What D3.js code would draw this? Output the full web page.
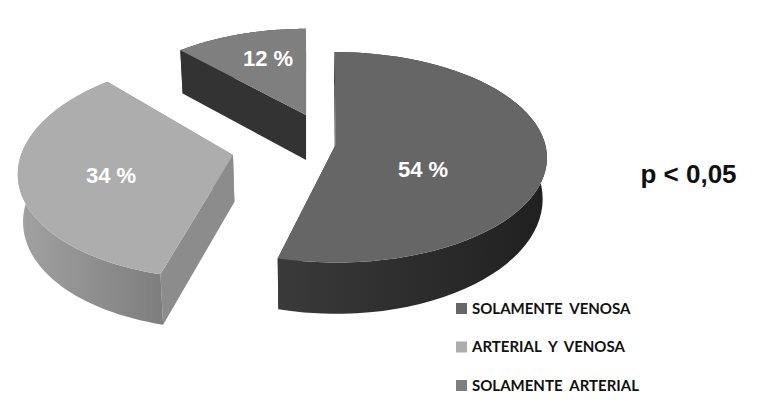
<!DOCTYPE html>
<html><head><meta charset="utf-8">
<style>html,body{margin:0;padding:0;background:#fff}svg{display:block}</style>
<script src="https://cdn.jsdelivr.net/npm/d3@7/dist/d3.min.js"></script>
</head><body><svg id="c" width="760" height="417"></svg>
<script>
const categories = ["SOLAMENTE  VENOSA", "ARTERIAL  Y  VENOSA", "SOLAMENTE  ARTERIAL"];
const values = [54, 34, 12];
const annotation = "p < 0,05";

const topColors = ["#666666", "#adadad", "#7f7f7f"];
const wallColors = ["#3a3a3a", "#8c8c8c", "#333333"];
const outerStops = [["#3a3a3a","#202020"], ["#a2a2a2","#7e7e7e"], ["#333333","#333333"]];
const legendColors = ["#666666", "#adadad", "#7f7f7f"];

// one placement per exploded slice
const layout = [
  {cx:335.5, cy:145, kx:.99, ky:.97, shear:1, depth:40, dp:2,  lx:423, ly:177},
  {cx:233, cy:155, kx:1,   ky:1.02,shear:-12, depth:47, dp:.6, lx:111, ly:183},
  {cx:306, cy:115, kx:.94, ky:.9,  shear:0,   depth:45, dp:.5, lx:268, ly:66}
];
const RX = 212, RY = 107, P = .117;
const VANISH_X = 310, CONVERGE = .018;

const svg = d3.select("#c");
const defs = svg.append("defs");
const arcs = d3.pie().sort(null).startAngle(0).endAngle(2*Math.PI)(values);

function project(l, a, f) {
  const u = Math.sin(a)*f, v = -Math.cos(a)*f, s = 1/(1 - P*v);
  return {x: l.cx + (RX*u*l.kx + l.shear*v)*s, y: l.cy + RY*v*s*l.ky, s};
}
const line = d3.line().x(d=>d.x).y(d=>d.y);

arcs.forEach((d,i)=>{
  const g = svg.append("g");
  const l = layout[i];
  const A = d3.range(0,61).map(t=>d.startAngle + (d.endAngle-d.startAngle)*t/60);
  const rim = A.map(a=>project(l,a,1));
  const low = p=>({x:p.x + (VANISH_X-p.x)*CONVERGE, y:p.y + l.depth*Math.pow(p.s,l.dp)});
  const c = project(l,0,0);

  // radial walls
  [rim[0],rim[60]].forEach(p=>{
    g.append("path").attr("d",line([c,p,low(p),low(c)])+"Z").attr("fill",wallColors[i]);
  });

  // outer wall
  const xs = d3.extent(rim,p=>p.x);
  const gid = "w"+i;
  const lg = defs.append("linearGradient").attr("id",gid).attr("gradientUnits","userSpaceOnUse")
    .attr("x1",xs[0]).attr("x2",xs[1]).attr("y1",0).attr("y2",0);
  lg.append("stop").attr("offset",0).attr("stop-color",outerStops[i][0]);
  lg.append("stop").attr("offset",1).attr("stop-color",outerStops[i][1]);
  g.append("path").attr("d",line(rim.concat(rim.map(low).reverse()))+"Z").attr("fill",`url(#${gid})`);

  // top face
  g.append("path").attr("d",line([c].concat(rim))+"Z").attr("fill",topColors[i]);
  g.append("text").attr("x",l.lx).attr("y",l.ly).attr("text-anchor","middle")
    .attr("font-family","'Liberation Sans',Arial,sans-serif").attr("font-weight","bold")
    .attr("font-size",22).attr("fill","#fff").text(values[i]+" %");
});

svg.append("text").attr("x",688.5).attr("y",183).attr("text-anchor","middle")
  .attr("font-family","'Liberation Sans',Arial,sans-serif").attr("font-weight","bold")
  .attr("font-size",26).attr("fill","#111").text(annotation);

const ly = d3.scalePoint().domain(categories).range([308,385]);
const lg = svg.selectAll("g.leg").data(categories).join("g").attr("class","leg")
  .attr("transform",d=>`translate(456,${ly(d)})`);
lg.append("rect").attr("y",-5).attr("width",11).attr("height",11).attr("fill",(d,i)=>legendColors[i]);
lg.append("text").attr("x",16).attr("y",5.5).style("white-space","pre")
  .attr("font-family","Lato,sans-serif").attr("font-weight","bold").attr("font-size",15).attr("fill","#111").text(d=>d);
</script></body></html>
